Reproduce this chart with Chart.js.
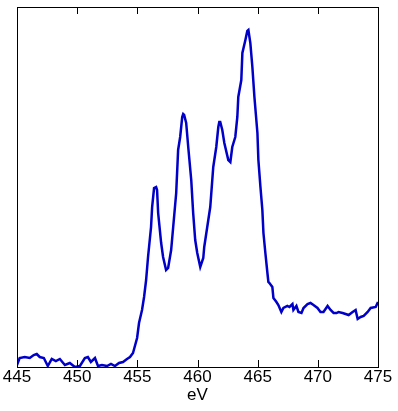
<!DOCTYPE html>
<html>
<head>
<meta charset="utf-8">
<script src="https://cdn.jsdelivr.net/npm/chart.js@4/dist/chart.umd.min.js"></script>
<style>
html,body{margin:0;padding:0;background:#fff;}
#wrap{width:398px;height:411px;position:relative;}
</style>
</head>
<body>
<div id="wrap"><canvas id="c" width="398" height="411"></canvas></div>
<script>
// X-ray absorption / EELS spectrum (arbitrary intensity units)
const energyEV = [
445.0,445.22,445.64,446.06,446.39,446.64,446.89,447.23,447.56,447.89,448.23,448.56,448.98,449.39,449.81,
450.23,450.64,450.89,451.14,451.48,451.73,452.06,452.48,452.81,453.14,453.48,453.81,454.14,454.39,454.64,
454.98,455.14,455.39,455.56,455.73,455.89,456.14,456.23,456.39,456.56,456.64,456.73,456.98,457.14,457.39,
457.56,457.81,457.98,458.23,458.39,458.56,458.73,458.81,458.89,459.06,459.23,459.48,459.64,459.81,459.98,
460.23,460.48,460.56,460.81,461.06,461.31,461.56,461.73,461.81,461.89,462.06,462.23,462.56,462.73,462.89,
463.14,463.31,463.39,463.64,463.73,463.98,464.14,464.23,464.39,464.56,464.73,464.98,465.06,465.23,465.39,
465.48,465.64,465.81,465.89,465.98,466.22,466.31,466.56,466.72,466.97,467.14,467.47,467.64,467.89,467.97,
468.22,468.39,468.64,468.81,469.14,469.39,469.64,469.97,470.22,470.47,470.81,471.06,471.31,471.56,471.72,
472.06,472.31,472.56,472.89,473.14,473.31,473.56,473.81,474.14,474.39,474.81,475.0
];
const intensity = [
2,9,10,9,12,13,10,9,1,8,6,8,2,4,0,
1,9,10,5,9,1,2,1,3,1,4,5,8,10,14,
29,44,57,70,87,110,140,160,179,180,177,154,124,110,97,
99,117,140,174,217,230,250,253,252,244,220,187,154,127,114,
100,109,120,140,160,200,220,240,245,245,237,224,207,205,220,
230,250,270,287,314,327,336,337,324,300,270,234,207,180,157,
134,114,94,85,84,80,69,65,62,55,59,61,60,63,57,
61,55,54,59,63,64,62,59,55,55,61,57,54,54,55,
54,53,52,55,57,48,50,51,55,59,60,65
];
const xTicks = [445,450,455,460,465,470,475];
const xTitle = 'eV';

const points = energyEV.map((e,i)=>({x:e,y:intensity[i]}));

const frameTicks = {
  id:'frameTicks',
  afterDraw(chart){
    const {ctx, chartArea:a, scales:{x}} = chart;
    ctx.save();
    ctx.strokeStyle = '#000';
    ctx.lineWidth = 1;
    ctx.strokeRect(Math.round(a.left)+0.5, Math.round(a.top)+0.5, Math.round(a.right-a.left), Math.round(a.bottom-a.top));
    ctx.beginPath();
    xTicks.forEach(v=>{
      const px = Math.round(x.getPixelForValue(v))+0.5;
      ctx.moveTo(px, a.bottom); ctx.lineTo(px, a.bottom-7);
      ctx.moveTo(px, a.top); ctx.lineTo(px, a.top+7);
    });
    ctx.stroke();
    ctx.restore();
  }
};

new Chart(document.getElementById('c'), {
  type:'line',
  data:{datasets:[{data:points, borderColor:'#0000c8', borderWidth:2.5, pointRadius:0, tension:0, fill:false}]},
  options:{
    responsive:false, animation:false,
    layout:{padding:{left:17, top:7, right:20, bottom:0}},
    plugins:{legend:{display:false}, tooltip:{enabled:false}},
    scales:{
      x:{type:'linear', min:445, max:475,
         afterBuildTicks(s){ s.ticks = xTicks.map(v=>({value:v})); },
         afterFit(s){ s.height = 44; },
         grid:{display:false, drawTicks:false},
         border:{display:false},
         ticks:{color:'#000', padding:0, maxRotation:0, autoSkip:false, font:{family:'"Liberation Sans", Arial, sans-serif', size:17}},
         title:{display:true, text:xTitle, color:'#000', padding:{top:0,bottom:5}, font:{family:'"Liberation Sans", Arial, sans-serif', size:17}}
      },
      y:{display:false, min:0, max:360}
    }
  },
  plugins:[frameTicks]
});
</script>
</body>
</html>
